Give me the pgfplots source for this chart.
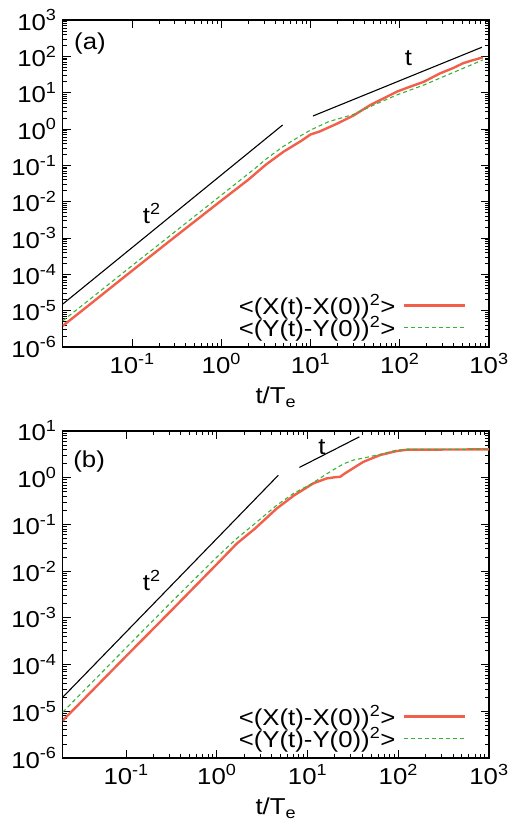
\documentclass[border=0pt]{standalone}
\usepackage{fontspec}
\setmainfont{Liberation Sans}[FakeStretch=1.12]
\usepackage{pgfplots}
\usepackage{pgfplotstable}
\pgfplotsset{compat=1.18}
\definecolor{myred}{RGB}{242,95,75}
\definecolor{mygreen}{RGB}{55,180,55}
\newcommand{\bigfont}{\fontsize{23}{26}\selectfont}

\pgfplotstableread{
x y
0.01667 3.80e-6
0.0316 1.318e-5
0.1 1.259e-4
0.3162 1.175e-3
1 0.01072
1.995 0.0398
3.162 0.1047
5.012 0.2399
7.943 0.4786
10 0.7079
12.59 0.8511
19.95 1.413
30.2 2.344
46.8 4.571
63.1 6.607
93.3 10.72
125.9 14.13
186.2 19.95
281.8 33.88
398.1 47.86
512.9 64.57
631 75.86
851 93.3
}\topX
\pgfplotstableread{
x y
0.01667 5.25e-6
0.0316 1.82e-5
0.1 1.738e-4
0.3162 1.622e-3
1 0.01514
2.399 0.0832
3.162 0.1479
5.012 0.3388
7.943 0.6761
10 0.9333
15.85 1.585
30.2 2.512
50.1 4.467
93.3 8.71
186.2 16.22
281.8 25.12
512.9 46.77
851 79.43
}\topY
\pgfplotstableread{
x y
0.02 6.31e-6
0.1 1.514e-4
0.3162 1.445e-3
1 0.01413
1.66 0.0389
2.63 0.0813
4.571 0.2188
7.079 0.4169
11.59 0.7586
16.22 0.966
19.95 1.023
22.9 1.047
25.7 1.230
31.6 1.585
41.2 2.188
63.1 3.055
95.5 3.715
125.9 3.981
1000 4.046
}\botX
\pgfplotstableread{
x y
0.02 9.55e-6
0.1 2.291e-4
0.3162 2.188e-3
1 0.01995
1.66 0.0501
2.63 0.1047
4.571 0.257
7.079 0.4677
10.72 0.716
17.78 1.349
25.12 1.995
32.36 2.399
41.2 2.630
63.1 3.162
95.5 3.890
125.9 4.027
1000 4.046
}\botY

\tikzset{
  redline/.style={myred, line width=2.4pt},
  greenline/.style={mygreen, line width=1.1pt, dash pattern=on 4pt off 3pt},
  blackline/.style={black, line width=1.1pt},
}
\pgfplotsset{
  legend image code/.code={\draw[#1] (0pt,0pt) -- (61pt,0pt);},
}
\pgfplotsset{
  panel/.style={
    scale only axis,
    width=426.3pt, height=327pt, xmax=1000, ymin=1e-6,
    font=\bigfont,
    tick label style={font=\bigfont},
    label style={font=\bigfont},
    every node/.append style={font=\bigfont},
    xticklabel style={inner sep=6pt},
    yticklabel style={inner sep=6pt},
    xlabel style={yshift=-4pt},
    major tick length=8pt, minor tick length=4pt,
    tick style={black, line width=0.8pt},
    axis line style={line width=1.2pt},
    xtick={0.1,1,10,100,1000},
    xticklabels={10\textsuperscript{-1},10\textsuperscript{0},10\textsuperscript{1},10\textsuperscript{2},10\textsuperscript{3}},
    xlabel={t/T\textsubscript{e}},
    legend plot pos=right, legend cell align=right,
    legend style={draw=none, fill=none, font=\bigfont,
      at={(rel axis cs:0.953,0.02)}, anchor=south east, row sep=0pt,
      nodes={inner xsep=7pt, inner ysep=0pt}},
  }
}

\begin{document}
\begin{tikzpicture}
\path[use as bounding box] (0,0) rectangle (508pt,828pt);
\begin{loglogaxis}[panel, at={(62.7pt,481pt)}, anchor=south west,
  xmin=0.01667, ymax=1000,
  ytick={1e-6,1e-5,1e-4,1e-3,1e-2,1e-1,1,10,100,1000},
  yticklabels={10\textsuperscript{-6},10\textsuperscript{-5},10\textsuperscript{-4},10\textsuperscript{-3},10\textsuperscript{-2},10\textsuperscript{-1},10\textsuperscript{0},10\textsuperscript{1},10\textsuperscript{2},10\textsuperscript{3}}]
\addplot[blackline, forget plot] coordinates {(0.01667,1.514e-5) (4.864,1.288)};
\addplot[blackline, forget plot] coordinates {(10.64,2.28) (831.8,177.8)};
\addplot[redline] table {\topX};
\addlegendentry{<(X(t)-X(0))\textsuperscript{2}>}
\addplot[greenline] table {\topY};
\addlegendentry{<(Y(t)-Y(0))\textsuperscript{2}>}
\node at (rel axis cs:0.064,0.929) {(a)};
\node at (rel axis cs:0.209,0.409) {t\textsuperscript{2}};
\node at (rel axis cs:0.811,0.883) {t};
\end{loglogaxis}
\begin{loglogaxis}[panel, at={(62.7pt,70pt)}, anchor=south west,
  xmin=0.02, ymax=10,
  ytick={1e-6,1e-5,1e-4,1e-3,1e-2,1e-1,1,10},
  yticklabels={10\textsuperscript{-6},10\textsuperscript{-5},10\textsuperscript{-4},10\textsuperscript{-3},10\textsuperscript{-2},10\textsuperscript{-1},10\textsuperscript{0},10\textsuperscript{1}}]
\addplot[blackline, forget plot] coordinates {(0.02,1.995e-5) (4.764,1.13)};
\addplot[blackline, forget plot] coordinates {(8.128,1.66) (37.24,7.5)};
\addplot[redline] table {\botX};
\addlegendentry{<(X(t)-X(0))\textsuperscript{2}>}
\addplot[greenline] table {\botY};
\addlegendentry{<(Y(t)-Y(0))\textsuperscript{2}>}
\node at (rel axis cs:0.062,0.906) {(b)};
\node at (rel axis cs:0.209,0.544) {t\textsuperscript{2}};
\node at (rel axis cs:0.608,0.952) {t};
\end{loglogaxis}
\end{tikzpicture}
\end{document}
